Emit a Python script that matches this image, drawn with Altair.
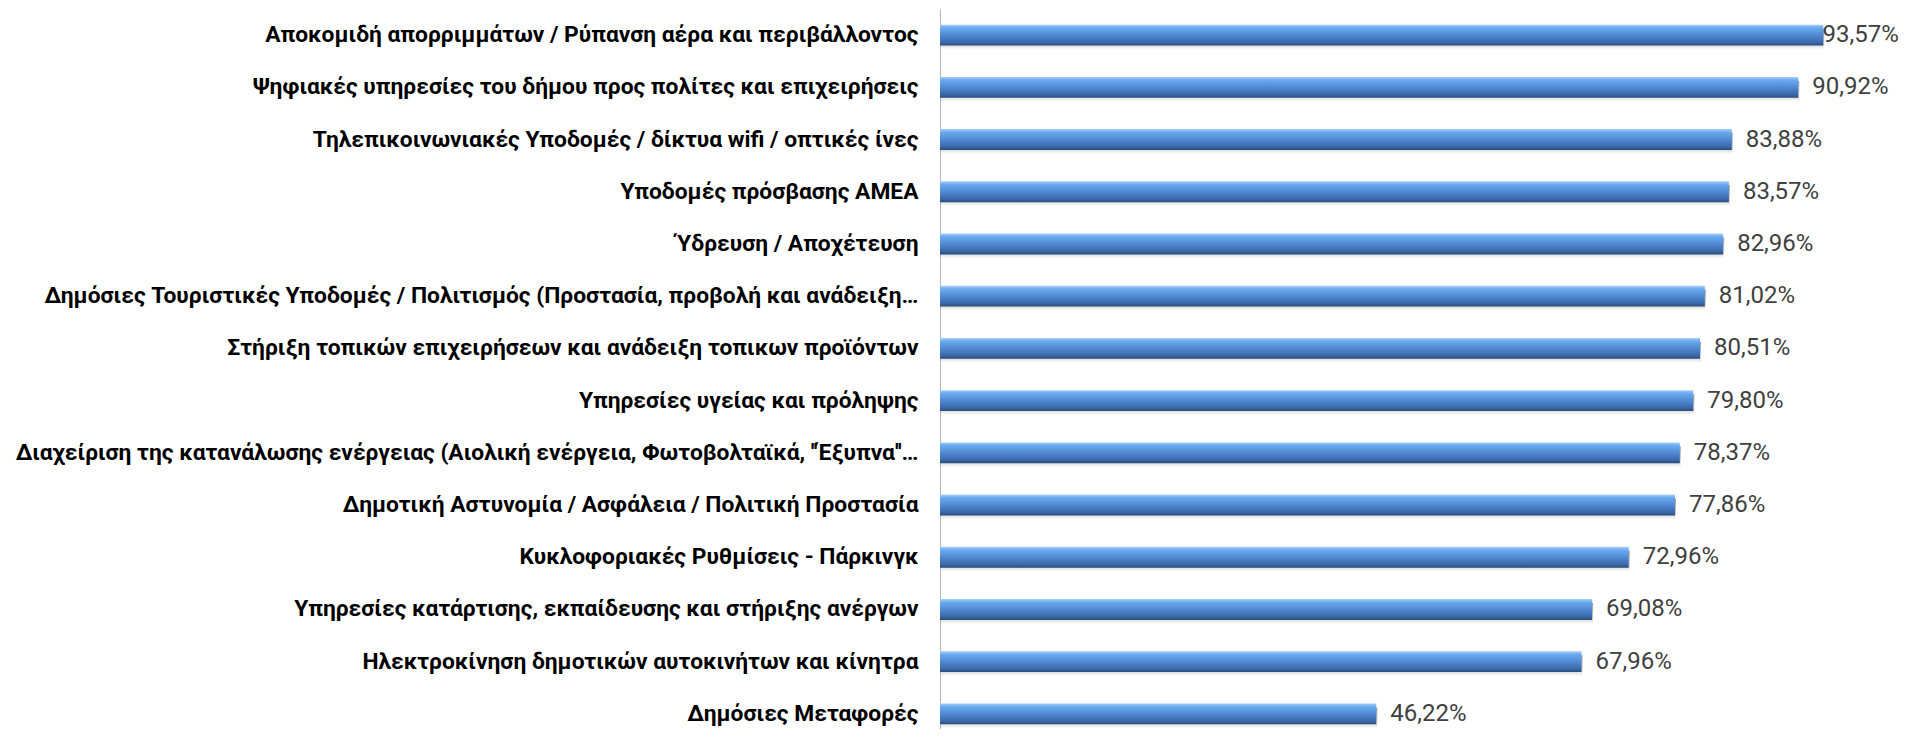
import altair as alt
import pandas as pd

categories = [
    "Αποκομιδή απορριμμάτων / Ρύπανση αέρα και περιβάλλοντος",
    "Ψηφιακές υπηρεσίες του δήμου προς πολίτες και επιχειρήσεις",
    "Τηλεπικοινωνιακές Υποδομές / δίκτυα wifi / οπτικές ίνες",
    "Υποδομές πρόσβασης ΑΜΕΑ",
    "Ύδρευση / Αποχέτευση",
    "Δημόσιες Τουριστικές Υποδομές / Πολιτισμός (Προστασία, προβολή και ανάδειξη…",
    "Στήριξη τοπικών επιχειρήσεων και ανάδειξη τοπικων προϊόντων",
    "Υπηρεσίες υγείας και πρόληψης",
    "Διαχείριση της κατανάλωσης ενέργειας (Αιολική ενέργεια, Φωτοβολταϊκά, ''Έξυπνα''…",
    "Δημοτική Αστυνομία / Ασφάλεια / Πολιτική Προστασία",
    "Κυκλοφοριακές Ρυθμίσεις - Πάρκινγκ",
    "Υπηρεσίες κατάρτισης, εκπαίδευσης και στήριξης ανέργων",
    "Ηλεκτροκίνηση δημοτικών αυτοκινήτων και κίνητρα",
    "Δημόσιες Μεταφορές",
]
values = [93.57, 90.92, 83.88, 83.57, 82.96, 81.02, 80.51, 79.80, 78.37, 77.86, 72.96, 69.08, 67.96, 46.22]
value_labels = ["93,57%", "90,92%", "83,88%", "83,57%", "82,96%", "81,02%", "80,51%",
                "79,80%", "78,37%", "77,86%", "72,96%", "69,08%", "67,96%", "46,22%"]

df = pd.DataFrame({"cat": categories, "value": values, "label": value_labels})

y_enc = alt.Y(
    "cat:N",
    sort=categories,
    title=None,
    scale=alt.Scale(range=[0, 731], paddingInner=0.6, paddingOuter=0.3),
    axis=alt.Axis(
        labelFont="Roboto",
        labelFontWeight="bold",
        labelFontSize=22.8,
        labelColor="#000000",
        labelLimit=940,
        labelPadding=22,
        ticks=False,
        domainColor="#b4b4b4",
        domainWidth=1,
        grid=False,
    ),
)
x_enc = alt.X(
    "value:Q",
    title=None,
    scale=alt.Scale(domain=[0, 100], nice=False),
    axis=None,
)

bar_grad = alt.LinearGradient(
    gradient="linear", x1=0, y1=0, x2=0, y2=1,
    stops=[
        alt.GradientStop(color="#a9d0f5", offset=0.0),
        alt.GradientStop(color="#6aaaf0", offset=0.15),
        alt.GradientStop(color="#5b98e0", offset=0.35),
        alt.GradientStop(color="#4a80c8", offset=0.6),
        alt.GradientStop(color="#3a68a8", offset=0.85),
        alt.GradientStop(color="#2a4a78", offset=1.0),
    ],
)
shadow_grad = alt.LinearGradient(
    gradient="linear", x1=0, y1=0, x2=0, y2=1,
    stops=[
        alt.GradientStop(color="#8a8a8a", offset=0.0),
        alt.GradientStop(color="#cfcfcf", offset=0.75),
        alt.GradientStop(color="#ffffff", offset=1.0),
    ],
)

base = alt.Chart(df)

shadow = base.mark_bar(color=shadow_grad, yOffset=4, xOffset=1, opacity=0.85).encode(x=x_enc, y=y_enc)
bars = base.mark_bar(color=bar_grad).encode(x=x_enc, y=y_enc)
text = base.transform_calculate(
    pos="min(datum.value, 92.0)"
).mark_text(
    align="left", baseline="middle", dx=14, dy=0,
    font="Roboto", fontSize=24, color="#404040",
).encode(
    x=alt.X("pos:Q", scale=alt.Scale(domain=[0, 100], nice=False), axis=None),
    y=y_enc,
    text="label:N",
)

chart = alt.layer(shadow, bars, text).properties(
    width=944,
    height=720,
    autosize=alt.AutoSizeParams(type="none"),
    padding={"left": 932, "top": 1, "right": 17, "bottom": 0},
).configure_view(stroke=None)

chart.save("out.html", embed_options={"renderer": "svg", "actions": False})
